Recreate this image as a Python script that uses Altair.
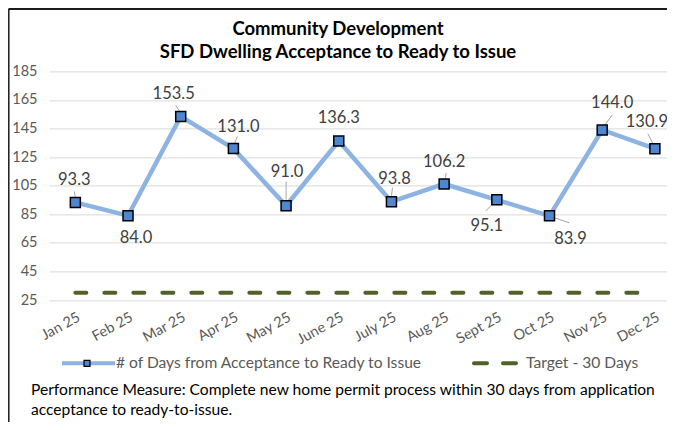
import altair as alt
import pandas as pd

# ---------------- data ----------------
months = ["Jan 25", "Feb 25", "Mar 25", "Apr 25", "May 25", "June 25",
          "July 25", "Aug 25", "Sept 25", "Oct 25", "Nov 25", "Dec 25"]
days = [93.3, 84.0, 153.5, 131.0, 91.0, 136.3, 93.8, 106.2, 95.1, 83.9, 144.0, 130.9]
target = [30, 30, 30, 30, 30, 30, 30, 30, 30, 30, 30, 30]
y_ticks = [25, 45, 65, 85, 105, 125, 145, 165, 185]

series_name = "# of Days from  Acceptance to Ready to Issue"
target_name = "Target - 30 Days"
title_lines = ["Community Development", "SFD Dwelling Acceptance to Ready to Issue"]
footer_lines = ["Performance Measure: Complete new home permit process within 30 days from application",
                "acceptance to ready-to-issue."]

# ---------------- layout / style ----------------
W, H = 618, 228.6
X_LO, X_HI = -0.5, 11.23
Y_LO, Y_HI = 25, 185
PX_X = W / (X_HI - X_LO)
PX_Y = H / (Y_HI - Y_LO)

FONT = "Lato"
LINE_COLOR = "#8db3e2"
MARK_FILL = "#4f86d0"
TARGET_COLOR = "#4f6228"
GRID = "#d9d9d9"
AXIS_TXT = "#595959"
LABEL_TXT = "#404040"

# data-label placement, pixel offsets from each point (styling)
lab_dx = [-1, 8, -7, 5, 1, 0, 3, 0, -10, 21, 10, -8]
lab_dy = [-22, 22, -22, -22, -34, -23, -23, -22, 26, 23, -27, -27]
# leader lines, pixel offsets (x1, y1, x2, y2) from each point; None = no leader
leaders = [(-1, -11, 0, -5), None, (-5, -11, -1, -5), (4, -12, 1, -5), (0, -24, 0, -6), None,
           (1, -14, 0, -6), (2, -11, 1, -5), (-3, 3, -11, 11), (5, 2, 20, 7),
           (10, -15, 2, -4), (-7, -15, -2, -5)]

idx = list(range(len(months)))
df = pd.DataFrame({
    "idx": idx,
    "month": months,
    "days": days,
    "target": target,
    "lab_x": [i + dx / PX_X for i, dx in zip(idx, lab_dx)],
    "lab_y": [v - dy / PX_Y for v, dy in zip(days, lab_dy)],
    "label": [f"{v:.1f}" for v in days],
})

lead_rows = []
for i, v, ld in zip(idx, days, leaders):
    if ld is None:
        continue
    x1, y1, x2, y2 = ld
    lead_rows.append({"lx": i + x1 / PX_X, "ly": v - y1 / PX_Y,
                      "lx2": i + x2 / PX_X, "ly2": v - y2 / PX_Y})
lead_df = pd.DataFrame(lead_rows)

label_expr = "[" + ",".join(f"'{m}'" for m in months) + "][datum.value]"

xscale = alt.Scale(domain=[X_LO, X_HI], nice=False, zero=False)
yscale = alt.Scale(domain=[Y_LO, Y_HI], nice=False, zero=False)

x_axis = alt.Axis(values=idx, labelExpr=label_expr, labelAngle=-29, labelAlign="right",
                  labelBaseline="top", labelPadding=10, labelFont=FONT, labelFontSize=14.5,
                  labelColor=AXIS_TXT, grid=False, domain=False, ticks=False, title=None,
                  labelOverlap=False)
y_axis = alt.Axis(values=y_ticks, labelFont=FONT, labelFontSize=14.5, labelColor=AXIS_TXT,
                  labelPadding=12, grid=True, gridColor=GRID, gridWidth=1, domain=False,
                  ticks=False, title=None)


def X(field):
    return alt.X(field, scale=xscale, axis=x_axis, title=None)


def Y(field):
    return alt.Y(field, scale=yscale, axis=y_axis, title=None)


base = alt.Chart(df)

target_line = base.mark_line(color=TARGET_COLOR, strokeWidth=4, strokeDash=[11, 18],
                             strokeCap="round").encode(x=X("idx:Q"), y=Y("target:Q"))

main_line = base.mark_line(color=LINE_COLOR, strokeWidth=4.5).encode(
    x=X("idx:Q"), y=Y("days:Q"))

leader_lines = alt.Chart(lead_df).mark_rule(color="#a6a6a6", strokeWidth=1).encode(
    x=X("lx:Q"), y=Y("ly:Q"), x2="lx2:Q", y2="ly2:Q")

markers = base.mark_point(shape="square", filled=True, fill=MARK_FILL, stroke="#000000",
                          strokeWidth=1.5, size=100, opacity=1).encode(
    x=X("idx:Q"), y=Y("days:Q"))

labels = base.mark_text(font=FONT, fontSize=16.5, color=LABEL_TXT, align="center",
                        baseline="middle").encode(
    x=X("lab_x:Q"), y=Y("lab_y:Q"), text="label:N")

one = alt.Data(values=[{}])


def txt(s, x, y, size, color, weight="normal", align="left"):
    return alt.Chart(one).mark_text(text=s, font=FONT, fontSize=size, color=color,
                                    fontWeight=weight, align=align,
                                    baseline="alphabetic").encode(
        x=alt.value(x), y=alt.value(y))


# title
t1 = txt(title_lines[0], 289, -36.9, 18.5, "#000000", "bold", "center")
t2 = txt(title_lines[1], 289, -13.1, 18.5, "#000000", "bold", "center")

# legend
LEG_Y = 291.9
leg_line = alt.Chart(one).mark_rule(color=LINE_COLOR, strokeWidth=4).encode(
    x=alt.value(13), x2=alt.value(66), y=alt.value(LEG_Y))
leg_mark = alt.Chart(one).mark_point(shape="square", filled=True, fill=MARK_FILL,
                                     stroke="#000000", strokeWidth=1.2, size=36,
                                     opacity=1).encode(
    x=alt.value(38), y=alt.value(LEG_Y))
leg_t1 = txt(series_name, 67, 296.9, 15.6, AXIS_TXT)
leg_dash = alt.Chart(one).mark_rule(color=TARGET_COLOR, strokeWidth=4, strokeDash=[13, 16],
                                    strokeCap="round").encode(
    x=alt.value(425), x2=alt.value(467), y=alt.value(LEG_Y))
leg_t2 = txt(target_name, 477, 296.9, 15.6, AXIS_TXT)

# footer
f1 = txt(footer_lines[0], -18, 323.6, 15.6, "#000000")
f2 = txt(footer_lines[1], -18, 343.6, 15.6, "#000000")

# outer border (top and left edges visible)
b_top = alt.Chart(one).mark_rule(color="#1a1a1a", strokeWidth=2).encode(
    x=alt.value(-40.5), x2=alt.value(W), y=alt.value(-62.4))
b_left = alt.Chart(one).mark_rule(color="#1a1a1a", strokeWidth=1.5).encode(
    x=alt.value(-40.2), y=alt.value(-62.4), y2=alt.value(350.6))

chart = alt.layer(
    target_line, main_line, leader_lines, markers, labels,
    t1, t2, leg_line, leg_mark, leg_t1, leg_dash, leg_t2, f1, f2, b_top, b_left,
).properties(
    width=W, height=H,
    padding={"left": 41, "top": 63.4, "right": 0, "bottom": 122},
    autosize=alt.AutoSizeParams(type="none"),
    background="#ffffff",
).configure_view(strokeWidth=0)

chart.save("out.html", embed_options={"renderer": "svg", "actions": False})
